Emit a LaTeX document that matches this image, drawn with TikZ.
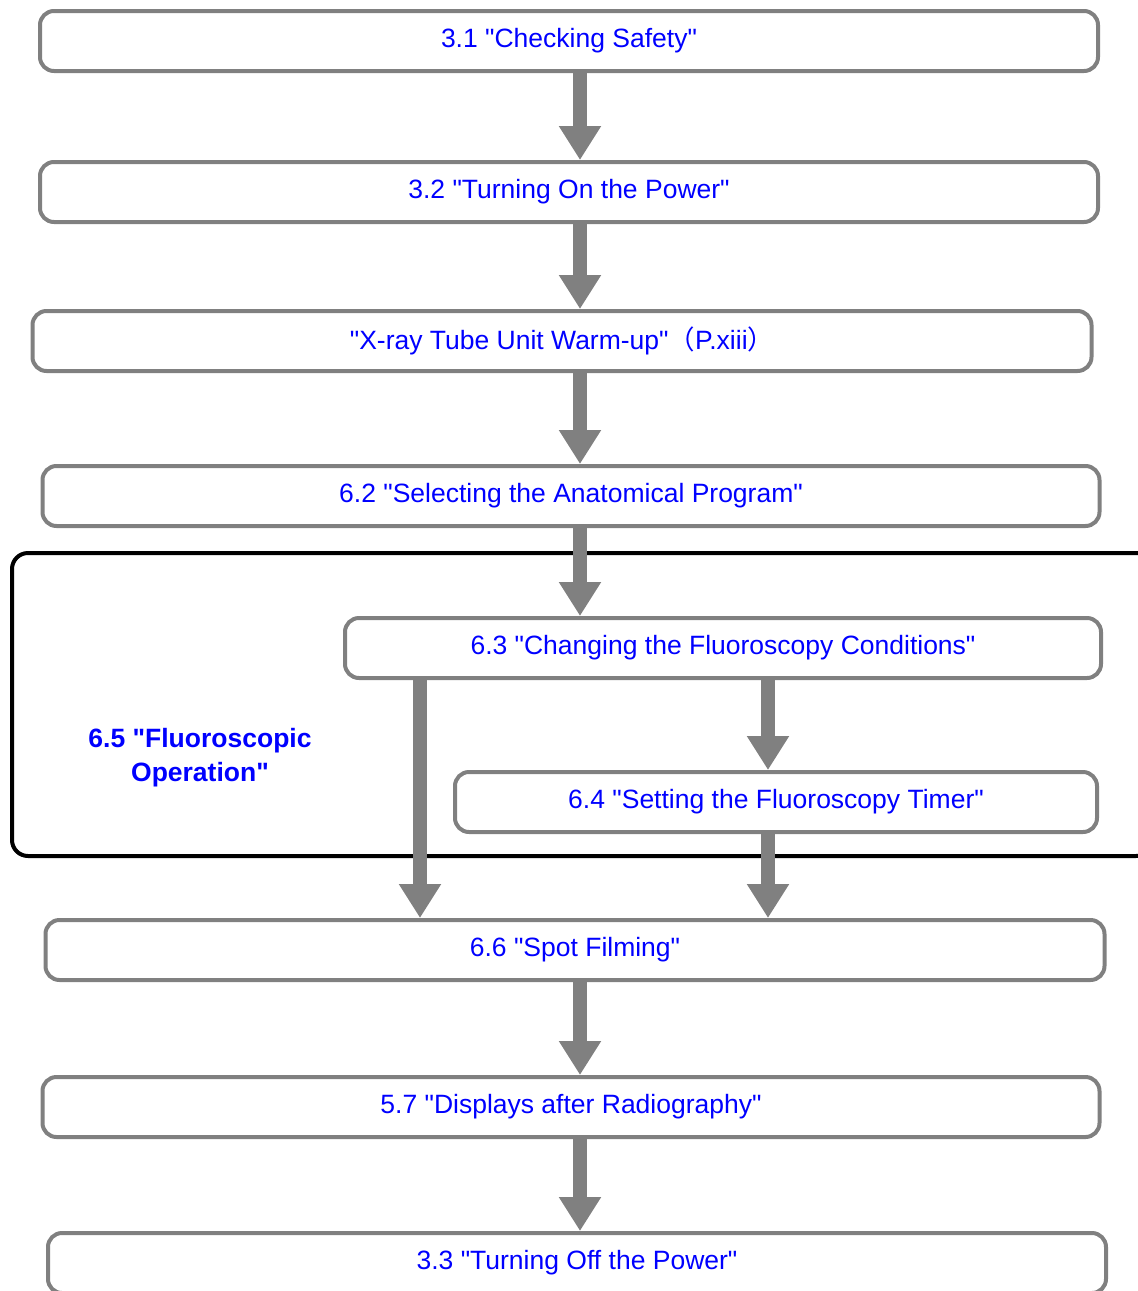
\documentclass[tikz,border=0pt]{standalone}
\usepackage{fontspec}
\setmainfont{Liberation Sans}[Ligatures=TeXOff]
\newfontfamily\cjk{Noto Sans CJK JP}
\usetikzlibrary{arrows.meta}
\definecolor{boxgray}{RGB}{128,128,128}
\definecolor{fblue}{RGB}{0,0,255}
\tikzset{
  stepbox/.style={draw=boxgray, line width=4pt, rounded corners=14pt, minimum height=60pt,
    inner sep=0pt, text=fblue, font=\fontsize{26.5}{30}\selectfont},
  flow/.style={draw=boxgray, line width=14pt, -{Triangle[width=40pt,length=34pt]}},
  frame/.style={draw=black, line width=4pt, rounded corners=16pt},
}
\begin{document}
\begin{tikzpicture}[x=1pt, y=-1pt]
        \useasboundingbox (0,0) rectangle (1138,1291);
        \draw[frame] (12,553) rectangle (1152,856);
        \node[stepbox, minimum width=1058pt] (chk) at (569, 41) {3.1 "Checking Safety"};
        \node[stepbox, minimum width=1058pt] (pwron) at (569, 192) {3.2 "Turning On the Power"};
        \node[stepbox, minimum width=1059pt] (warm) at (562, 341) {"X-ray Tube Unit Warm-up"{\cjk （}P.xiii{\cjk ）}};
        \node[stepbox, minimum width=1057pt] (anat) at (571, 496) {6.2 "Selecting the Anatomical Program"};
        \node[stepbox, minimum width=756pt] (cond) at (723, 648) {6.3 "Changing the Fluoroscopy Conditions"};
        \node[stepbox, minimum width=642pt] (timer) at (776, 802) {6.4 "Setting the Fluoroscopy Timer"};
        \node[stepbox, minimum width=1059pt] (spot) at (575, 950) {6.6 "Spot Filming"};
        \node[stepbox, minimum width=1057pt] (disp) at (571, 1107) {5.7 "Displays after Radiography"};
        \node[stepbox, minimum width=1058pt] (pwroff) at (577, 1263) {3.3 "Turning Off the Power"};
        \node[text=fblue, align=center, font=\fontsize{26.5}{34}\selectfont\bfseries] (oper) at (200, 758)
          {6.5 "Fluoroscopic\\Operation"};
        \coordinate (spine) at (580, 0);
        \coordinate (branch) at (768, 0);
        \coordinate (bypass) at (420, 0);
        \foreach \from/\to in {chk/pwron, pwron/warm, warm/anat, anat/cond, spot/disp, disp/pwroff}{
          \draw[flow] (\from.south -| spine) -- (\to.north -| spine);
          }
        \draw[flow] (cond.south -| branch) -- (timer.north -| branch);
        \draw[flow] (timer.south -| branch) -- (spot.north -| branch);
        \draw[flow] ([yshift=4pt]cond.south -| bypass) -- (spot.north -| bypass);
      \end{tikzpicture}
\end{document}
